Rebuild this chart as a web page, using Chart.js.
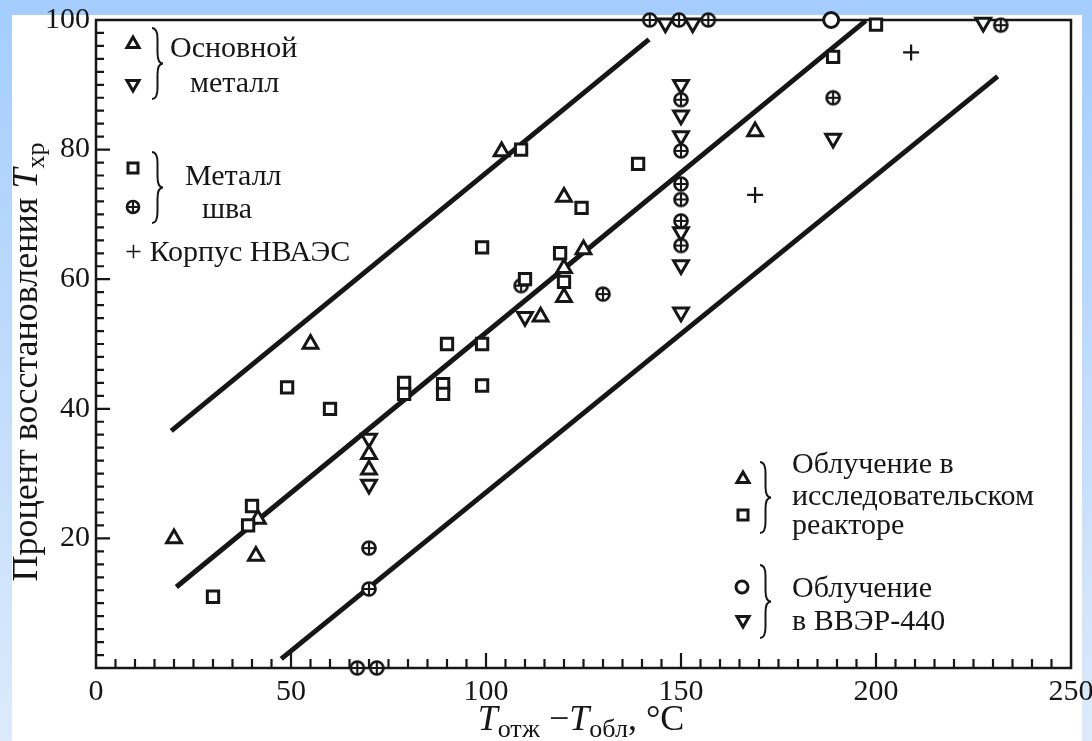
<!DOCTYPE html>
<html>
<head>
<meta charset="utf-8">
<script src="https://cdn.jsdelivr.net/npm/chart.js@4.4.1/dist/chart.umd.min.js"></script>
<style>
  html, body { margin: 0; padding: 0; }
  body { width: 1092px; height: 741px; overflow: hidden; position: relative;
    background: linear-gradient(to bottom, #a4cdfd, #dceafb); }
  #panel { position: absolute; left: 12px; top: 15px; width: 1070px; height: 726px; background: #fff; }
  #chart { position: absolute; left: 0; top: 0; }
</style>
</head>
<body>
<div id="panel"></div>
<canvas id="chart" width="1092" height="741"></canvas>
<script>
// Tick labels
const xTicks = [0, 50, 100, 150, 200, 250];
const yTicks = [20, 40, 60, 80, 100];

// Point series, [x, y]
const baseUp = [[20, 20], [41, 17.3], [41.5, 23], [55, 50], [70, 33], [70, 30.6], [104, 79.7],
  [120, 72.7], [125, 64.6], [120, 61.7], [120, 57.2], [114, 54.2], [169, 82.8]];
const baseDown = [[70, 35.4], [70, 28.3], [110, 54.2], [150, 90], [150, 85.3], [150, 82.1],
  [150, 67.3], [150, 62.2], [150, 54.9], [189, 81.7], [146, 99.5], [153, 99.5], [227.5, 99.6]];
const weldSquare = [[30, 11], [39, 22], [40, 25], [49, 43.3], [60, 40], [79, 44], [79, 42.3],
  [90, 50], [89, 43.8], [89, 42.3], [99, 50], [99, 64.9], [99, 43.6], [109, 80], [110, 60],
  [119, 64], [120, 59.6], [124.5, 71], [139, 77.8], [189, 94.3], [200, 99.3]];
const weldCircle = [[70, 18.5], [70, 12.2], [67, 0], [72, 0], [109, 59], [130, 57.7],
  [150, 87.7], [150, 79.8], [150, 74.7], [150, 72.3], [150, 69], [150, 65.2],
  [142, 100], [149.5, 100], [157, 100], [189, 88], [232, 99.2]];
const vverCircle = [[188.5, 100]];
const hullPlus = [[209, 95], [169, 73]];

// The three parallel band lines (end points)
const bandUpper = [[19.3, 36.6], [141.8, 97.0]];
const bandMiddle = [[20.6, 12.5], [197.4, 99.9]];
const bandLower = [[47.5, 1.4], [231.2, 91.3]];

const serif = '"Liberation Serif", "DejaVu Serif", serif';
const ink = "#161616";

const toXY = (arr) => arr.map(([x, y]) => ({ x, y }));

// circle with a cross inside, used as a point style
function makeCirclePlus(r, lw) {
  const size = Math.ceil(2 * r + lw + 2);
  const c = document.createElement("canvas");
  c.width = size;
  c.height = size;
  const g = c.getContext("2d");
  drawCirclePlus(g, size / 2, size / 2, r, lw);
  return c;
}

function drawCirclePlus(g, x, y, r, lw) {
  g.save();
  g.lineWidth = lw;
  g.strokeStyle = ink;
  g.fillStyle = "#fff";
  g.beginPath();
  g.arc(x, y, r, 0, Math.PI * 2);
  g.fill();
  g.stroke();
  g.beginPath();
  g.moveTo(x - r, y);
  g.lineTo(x + r, y);
  g.moveTo(x, y - r);
  g.lineTo(x, y + r);
  g.lineWidth = lw * 0.8;
  g.stroke();
  g.restore();
}

function drawTri(g, x, y, r, down) {
  const s = down ? -1 : 1;
  g.beginPath();
  g.moveTo(x, y - s * r);
  g.lineTo(x + r * 0.866, y + s * r * 0.5);
  g.lineTo(x - r * 0.866, y + s * r * 0.5);
  g.closePath();
  g.fillStyle = "#fff";
  g.fill();
  g.stroke();
}

function drawBrace(g, x, y1, y2, w) {
  const ym = (y1 + y2) / 2;
  const h = w * 0.5;
  g.beginPath();
  g.moveTo(x, y1);
  g.quadraticCurveTo(x + h, y1, x + h, y1 + w);
  g.lineTo(x + h, ym - w);
  g.quadraticCurveTo(x + h, ym, x + w, ym);
  g.quadraticCurveTo(x + h, ym, x + h, ym + w);
  g.lineTo(x + h, y2 - w);
  g.quadraticCurveTo(x + h, y2, x, y2);
  g.stroke();
}

function richWidth(g, parts) {
  let w = 0;
  for (const p of parts) {
    g.font = p.font;
    w += g.measureText(p.text).width;
  }
  return w;
}

function drawRich(g, parts, x, y) {
  let cx = x;
  for (const p of parts) {
    g.font = p.font;
    g.fillText(p.text, cx, y + (p.dy || 0));
    cx += g.measureText(p.text).width;
  }
}

const fontMain = `30px ${serif}`;
const fontTitle = `36px ${serif}`;
const fontTitleIt = `italic 36px ${serif}`;
const fontSub = `26px ${serif}`;

// frame and inward ticks, drawn under the marks
const framePlugin = {
  id: "frame",
  beforeDatasetsDraw(chart) {
    const { ctx, chartArea: a, scales } = chart;
    ctx.save();
    ctx.strokeStyle = ink;
    ctx.lineWidth = 2.5;
    ctx.strokeRect(a.left, a.top, a.right - a.left, a.bottom - a.top);
    ctx.lineWidth = 2.2;
    ctx.beginPath();
    for (let v = 5; v < 250; v += 5) {
      const px = scales.x.getPixelForValue(v);
      const len = v % 50 === 0 ? 15 : 9;
      ctx.moveTo(px, a.bottom);
      ctx.lineTo(px, a.bottom - len);
    }
    for (let v = 2; v < 100; v += 2) {
      const py = scales.y.getPixelForValue(v);
      const len = v % 20 === 0 ? 14 : 8;
      ctx.moveTo(a.left, py);
      ctx.lineTo(a.left + len, py);
    }
    ctx.stroke();
    ctx.restore();
  },
  afterDraw(chart) {
    const { ctx } = chart;
    ctx.save();
    ctx.fillStyle = ink;
    ctx.strokeStyle = ink;
    ctx.textBaseline = "alphabetic";
    ctx.textAlign = "left";

    // axis titles
    const xParts = [
      { text: "T", font: fontTitleIt },
      { text: "отж", font: fontSub, dy: 7 },
      { text: " −", font: fontTitle },
      { text: "T", font: fontTitleIt },
      { text: "обл", font: fontSub, dy: 7 },
      { text: ", °C", font: fontTitle },
    ];
    drawRich(ctx, xParts, 581 - richWidth(ctx, xParts) / 2, 730);

    const yParts = [
      { text: "Процент восстановления ", font: fontTitle },
      { text: "T", font: fontTitleIt },
      { text: "хр", font: fontSub, dy: 7 },
    ];
    ctx.save();
    ctx.translate(37, 362);
    ctx.rotate(-Math.PI / 2);
    drawRich(ctx, yParts, -richWidth(ctx, yParts) / 2, 0);
    ctx.restore();

    // legend, upper left
    ctx.lineWidth = 3;
    drawTri(ctx, 133, 44, 7, false);
    drawTri(ctx, 133, 84, 7, true);
    ctx.fillStyle = "#fff";
    ctx.fillRect(128, 163, 10, 10);
    ctx.strokeRect(128, 163, 10, 10);
    drawCirclePlus(ctx, 133, 207, 6, 2.6);
    ctx.lineWidth = 2;
    drawBrace(ctx, 152, 28, 99, 11);
    drawBrace(ctx, 152, 152, 223, 11);
    ctx.fillStyle = ink;
    ctx.font = fontMain;
    ctx.fillText("Основной", 170, 57);
    ctx.fillText("металл", 190, 92);
    ctx.fillText("Металл", 185, 185);
    ctx.fillText("шва", 202, 218);
    ctx.fillText("+ Корпус НВАЭС", 125, 261);

    // legend, lower right
    ctx.lineWidth = 3;
    drawTri(ctx, 743, 479, 7, false);
    ctx.fillStyle = "#fff";
    ctx.fillRect(738, 510, 10, 10);
    ctx.strokeRect(738, 510, 10, 10);
    ctx.beginPath();
    ctx.arc(742, 587, 6, 0, Math.PI * 2);
    ctx.fill();
    ctx.stroke();
    drawTri(ctx, 743, 620, 7, true);
    ctx.lineWidth = 2;
    drawBrace(ctx, 760, 462, 533, 11);
    drawBrace(ctx, 760, 565, 638, 11);
    ctx.fillStyle = ink;
    ctx.font = fontMain;
    ctx.fillText("Облучение в", 792, 473);
    ctx.fillText("исследовательском", 792, 505);
    ctx.fillText("реакторе", 792, 534);
    ctx.fillText("Облучение", 792, 597);
    ctx.fillText("в ВВЭР-440", 792, 630);
    ctx.restore();
  },
};

const lineSet = (data) => ({
  type: "scatter",
  data: toXY(data),
  showLine: true,
  borderColor: ink,
  borderWidth: 5,
  pointRadius: 0,
  clip: false,
  order: 10,
});

const markSet = (data, style, radius, extra) => ({
  type: "scatter",
  data: toXY(data),
  pointStyle: style,
  pointRadius: radius,
  pointBackgroundColor: "#fff",
  pointBorderColor: ink,
  pointBorderWidth: 3,
  clip: false,
  order: 1,
  ...extra,
});

const circlePlus = makeCirclePlus(6.5, 2.7);

new Chart(document.getElementById("chart"), {
  type: "scatter",
  data: {
    datasets: [
      lineSet(bandUpper),
      lineSet(bandMiddle),
      lineSet(bandLower),
      markSet(weldSquare, "rect", 8),
      markSet(baseUp, "triangle", 8.5),
      markSet(baseDown, "triangle", 8.5, { pointRotation: 180 }),
      markSet(weldCircle, circlePlus, 8),
      markSet(vverCircle, "circle", 7.5),
      markSet(hullPlus, "cross", 8, { pointBorderWidth: 2.2 }),
    ],
  },
  options: {
    responsive: false,
    animation: false,
    layout: { padding: { left: 0, right: 21, top: 20, bottom: 0 } },
    plugins: { legend: { display: false }, tooltip: { enabled: false } },
    scales: {
      x: {
        type: "linear",
        min: 0,
        max: 250,
        afterBuildTicks: (s) => { s.ticks = xTicks.map((v) => ({ value: v })); },
        afterFit: (s) => { s.height = 73; s.paddingLeft = 0; s.paddingRight = 0; },
        grid: { display: false, drawTicks: false },
        border: { display: false },
        ticks: { color: ink, font: { family: serif, size: 30 }, padding: 6, maxRotation: 0 },
      },
      y: {
        type: "linear",
        min: 0,
        max: 100,
        afterBuildTicks: (s) => { s.ticks = yTicks.map((v) => ({ value: v })); },
        afterFit: (s) => { s.width = 96; s.paddingTop = 0; s.paddingBottom = 0; },
        grid: { display: false, drawTicks: false },
        border: { display: false },
        ticks: { color: ink, font: { family: serif, size: 30 }, padding: 6 },
      },
    },
  },
  plugins: [framePlugin],
});
</script>
</body>
</html>
